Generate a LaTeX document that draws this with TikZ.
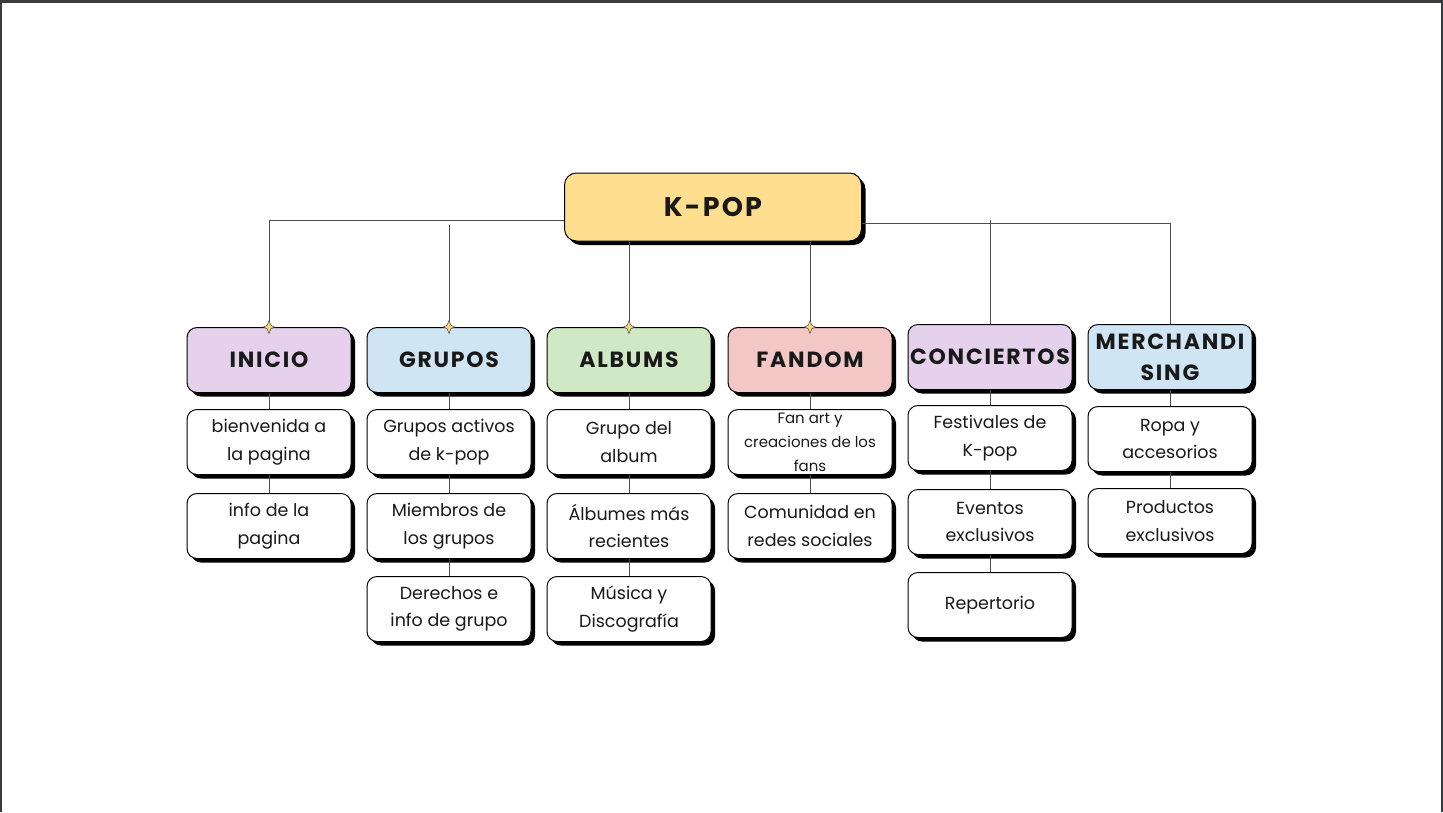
\documentclass[tikz,border=0pt]{standalone}
\usepackage{fontspec}
\setmainfont{Poppins}
\newfontfamily\headfont{Poppins}[LetterSpace=8]
\usetikzlibrary{shadows}

\definecolor{framegray}{HTML}{3A3B3E}
\definecolor{kyellow}{HTML}{FFDF8F}
\definecolor{klila}{HTML}{E6D1EC}
\definecolor{kblue}{HTML}{CFE5F3}
\definecolor{kgreen}{HTML}{CFE9C4}
\definecolor{kpink}{HTML}{F4C7C7}
\definecolor{kgold}{HTML}{F6D67A}

\tikzset{
  boxbase/.style={draw=black, line width=1pt, rounded corners=10pt, inner sep=2pt,
    align=center, text=black!90,
    general shadow={fill=black, shadow xshift=4pt, shadow yshift=-4pt}},
  rootbox/.style={boxbase, fill=kyellow, rounded corners=12pt, minimum width=297pt,
    minimum height=68pt, font=\headfont\bfseries\fontsize{27}{30}\selectfont},
  catbox/.style={boxbase, minimum width=164pt, minimum height=65pt,
    font=\headfont\bfseries\fontsize{22}{31}\selectfont},
  itembox/.style={boxbase, fill=white, minimum width=164pt, minimum height=65pt,
    font=\fontsize{17.5}{27.5}\selectfont},
  link/.style={draw=black!70, line width=1pt},
  spark/.style={fill=kgold, draw=black!70, line width=0.5pt}
}

\begin{document}
\begin{tikzpicture}[x=1pt,y=-1pt]
    \useasboundingbox (0,0) rectangle (1443,812);
    % page frame
    \fill[framegray] (0,0) rectangle (1443,3);
    \fill[framegray] (0,0) rectangle (2,812);
    \fill[framegray] (1441,0) rectangle (1443,812);

    % root
    \node[rootbox] (root) at (713,207) {K-POP};

    % categories
    \node[catbox, fill=klila]  (inicio)     at (269,360) {INICIO};
    \node[catbox, fill=kblue]  (grupos)     at (449,360) {GRUPOS};
    \node[catbox, fill=kgreen] (albums)     at (629,360) {ALBUMS};
    \node[catbox, fill=kpink]  (fandom)     at (810,360) {FANDOM};
    \node[catbox, fill=klila]  (conciertos) at (990,357) {CONCIERTOS};
    \node[catbox, fill=kblue]  (merch)      at (1170,357) {MERCHANDI\\SING};

    % items
    \node[itembox] (ini1) at (269,442) {bienvenida a\\la pagina};
    \node[itembox] (ini2) at (269,526) {info de la\\pagina};

    \node[itembox] (gru1) at (449,442) {Grupos activos\\de k-pop};
    \node[itembox] (gru2) at (449,526) {Miembros de\\los grupos};
    \node[itembox] (gru3) at (449,609) {Derechos e\\info de grupo};

    \node[itembox] (alb1) at (629,442) {Grupo del\\album};
    \node[itembox] (alb2) at (629,526) {Álbumes más\\recientes};
    \node[itembox] (alb3) at (629,609) {Música y\\Discografía};

    \node[itembox, font=\fontsize{15}{24}\selectfont] (fan1) at (810,442) {Fan art y\\creaciones de los\\fans};
    \node[itembox] (fan2) at (810,526) {Comunidad en\\redes sociales};

    \node[itembox] (con1) at (990,438) {Festivales de\\K-pop};
    \node[itembox] (con2) at (990,522) {Eventos\\exclusivos};
    \node[itembox] (con3) at (990,605) {Repertorio};

    \node[itembox] (mer1) at (1170,439) {Ropa y\\accesorios};
    \node[itembox] (mer2) at (1170,521) {Productos\\exclusivos};

    % root connectors
    \coordinate (gtop) at (449,225);
    \coordinate (ctop) at (990,220);
    \draw[link] (inicio.north) |- ([yshift=-13pt]root.west);
    \draw[link] (merch.north) |- ([yshift=-16pt]root.east);
    \draw[link] (grupos.north) -- (gtop);
    \draw[link] (albums.north) -- (albums.north |- root.south);
    \draw[link] (fandom.north) -- (fandom.north |- root.south);
    \draw[link] (conciertos.north) -- (ctop);

    % item connectors
    \draw[link] (inicio.south) -- (ini1.north) (ini1.south) -- (ini2.north);
    \draw[link] (grupos.south) -- (gru1.north) (gru1.south) -- (gru2.north) (gru2.south) -- (gru3.north);
    \draw[link] (albums.south) -- (alb1.north) (alb1.south) -- (alb2.north) (alb2.south) -- (alb3.north);
    \draw[link] (fandom.south) -- (fan1.north) (fan1.south) -- (fan2.north);
    \draw[link] (conciertos.south) -- (con1.north) (con1.south) -- (con2.north) (con2.south) -- (con3.north);
    \draw[link] (merch.south) -- (mer1.north) (mer1.south) -- (mer2.north);

    % little sparks on top of the first boxes
    \foreach \n in {inicio,grupos,albums,fandom}
        \path[spark] (\n.north) +(0,-6.5) -- +(1.8,-1.8) -- +(5.5,0) -- +(1.8,1.8)
            -- +(0,6.5) -- +(-1.8,1.8) -- +(-5.5,0) -- +(-1.8,-1.8) -- cycle;
\end{tikzpicture}
\end{document}
